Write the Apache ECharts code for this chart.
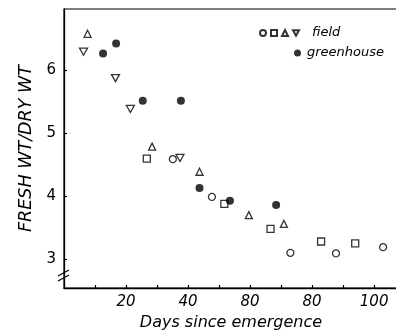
<!DOCTYPE html>
<html>
<head>
<meta charset="utf-8">
<script src="https://cdn.jsdelivr.net/npm/echarts@6/dist/echarts.min.js"></script>
<style>
html,body{margin:0;padding:0;background:#fff;}
#c{width:396px;height:330px;}
</style>
</head>
<body>
<div id="c"></div>
<script>
// Data (days since emergence, fresh wt / dry wt)
var fieldCircle = [[35.1,4.59],[47.7,3.99],[73.0,3.10],[87.7,3.09],[102.9,3.19]];
var fieldSquare = [[26.7,4.60],[51.7,3.88],[66.6,3.48],[82.9,3.28],[93.9,3.25]];
var fieldTriUp = [[7.6,6.585],[28.4,4.79],[43.7,4.39],[59.6,3.70],[70.9,3.56]];
var fieldTriDown = [[6.3,6.30],[16.6,5.88],[21.4,5.39],[37.4,4.61]];
var greenhouse = [[12.6,6.27],[16.8,6.43],[25.4,5.52],[37.7,5.52],[43.7,4.13],[53.5,3.93],[68.4,3.86]];

var xTickValues = [10,20,30,40,50,60,70,80,90,100];
var xLabelValues = [20,40,60,80,100];
var xLabelTexts = ['20','40','80','80','100'];
var yTickValues = [3,4,5,6];
var yLabelTexts = ['3','4','5','6'];

var FONT = 'DejaVu Sans';
var triDown = 'path://M0,0 L10,0 L5,9 Z';

var chart = echarts.init(document.getElementById('c'), null, {renderer:'canvas'});

function openStyle(){ return {color:'#fff', borderColor:'#000', borderWidth:1.3}; }

var option = {
  backgroundColor:'#fff',
  animation:false,
  grid:{left:64, right:-2, top:9, bottom:42, containLabel:false, outerBoundsMode:'none',
        show:true, borderColor:'#000', borderWidth:1.2, backgroundColor:'transparent'},
  legend:[{
    data:[
      {name:'field ○', textStyle:{padding:0}},
      {name:'field □', textStyle:{padding:0}},
      {name:'field △', textStyle:{padding:0}},
      {name:'field ▽', textStyle:{padding:[0,0,0,8]}}
    ],
    left:259, top:26, padding:0, orient:'horizontal',
    itemWidth:6, itemHeight:6, itemGap:-1,
    formatter:function(n){ return n==='field ▽' ? 'field' : ''; },
    textStyle:{fontFamily:FONT, fontStyle:'italic', fontSize:13, lineHeight:14, color:'#000'},
    selectedMode:false
  },{
    data:['greenhouse'],
    left:294, top:46, padding:0,
    itemWidth:7, itemHeight:7,
    textStyle:{fontFamily:FONT, fontStyle:'italic', fontSize:13, lineHeight:14, color:'#000', padding:[0,0,0,1]},
    selectedMode:false
  }],
  xAxis:{
    type:'value', min:0, max:107.7,
    name:'Days since emergence', nameLocation:'middle', nameGap:27,
    nameTextStyle:{fontFamily:FONT, fontStyle:'italic', fontSize:16, color:'#000'},
    axisLine:{show:true, lineStyle:{color:'#000', width:1.3}},
    axisTick:{show:true, inside:true, length:3, customValues:xTickValues, lineStyle:{color:'#000', width:1.2}},
    axisLabel:{customValues:xLabelValues, margin:7, fontFamily:FONT, fontStyle:'italic', fontSize:15, color:'#000',
      formatter:function(v){ var i = xLabelValues.indexOf(Math.round(v)); return i>=0 ? xLabelTexts[i] : ''; }},
    splitLine:{show:false}
  },
  yAxis:{
    type:'value', min:2.54, max:6.98,
    name:'FRESH WT/DRY WT', nameLocation:'middle', nameGap:28, nameRotate:90,
    nameTextStyle:{fontFamily:FONT, fontStyle:'italic', fontSize:17.5, color:'#000'},
    axisLine:{show:true, lineStyle:{color:'#000', width:1.3}},
    axisTick:{show:true, inside:true, length:3, customValues:yTickValues, lineStyle:{color:'#000', width:1.2}},
    axisLabel:{customValues:yTickValues, margin:8, fontFamily:FONT, fontSize:15, color:'#000',
      formatter:function(v){ var i = yTickValues.indexOf(Math.round(v)); return i>=0 ? yLabelTexts[i] : ''; }},
    splitLine:{show:false}
  },
  series:[
    {name:'field ○', type:'scatter', data:fieldCircle, symbol:'circle', symbolSize:7, itemStyle:openStyle()},
    {name:'field □', type:'scatter', data:fieldSquare, symbol:'rect', symbolSize:7, itemStyle:openStyle()},
    {name:'field △', type:'scatter', data:fieldTriUp, symbol:'triangle', symbolSize:7, itemStyle:openStyle()},
    {name:'field ▽', type:'scatter', data:fieldTriDown, symbol:triDown, symbolSize:[8,7], itemStyle:openStyle()},
    {name:'greenhouse', type:'scatter', data:greenhouse, symbol:'circle', symbolSize:8, itemStyle:{color:'#000'}}
  ]
};
chart.setOption(option);

// axis break marks on the y axis
var p1 = chart.convertToPixel({gridIndex:0}, [0, 2.78]);
var p2 = chart.convertToPixel({gridIndex:0}, [0, 2.70]);
chart.setOption({
  graphic:[
    {type:'line', shape:{x1:p1[0]-6, y1:p1[1]+3, x2:p1[0]+5, y2:p1[1]-3}, style:{stroke:'#000', lineWidth:1.2}},
    {type:'line', shape:{x1:p2[0]-6, y1:p2[1]+3, x2:p2[0]+5, y2:p2[1]-3}, style:{stroke:'#000', lineWidth:1.2}}
  ]
});
</script>
</body>
</html>
